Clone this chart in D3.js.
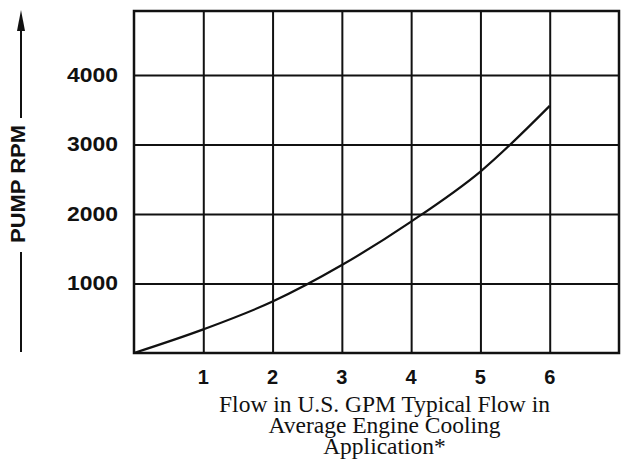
<!DOCTYPE html>
<html>
<head>
<meta charset="utf-8">
<script src="https://cdn.jsdelivr.net/npm/d3@7"></script>
<style>
  body { margin: 0; background: #fff; }
  svg { display: block; }
</style>
</head>
<body>
<div id="chart"></div>
<script>
// values
const flowGpm = [0, 1, 2, 3, 4, 5, 6]
const pumpRpm = [0, 340, 740, 1265, 1890, 2610, 3555]
const xTicks = [1, 2, 3, 4, 5, 6]
const yTicks = [1000, 2000, 3000, 4000]
const yTitle = "PUMP RPM"
const xTitle = ["Flow in U.S. GPM Typical Flow in", "Average Engine Cooling", "Application*"]

let width = 629
let height = 476
let ink = "#111"

let svg = d3.select("#chart")
  .append("svg")
  .attr("width", width)
  .attr("height", height)

// plot box
let boxLeft = 134, boxRight = 619, boxTop = 11, boxBottom = 353

let x = d3.scaleLinear().domain([0, 7]).range([boxLeft, boxRight])
let y = d3.scaleLinear().domain([0, 4920]).range([boxBottom, boxTop])

// vertical grid lines
svg.append("g")
  .attr("transform", `translate(0,${boxBottom})`)
  .call(d3.axisBottom(x).tickValues(xTicks).tickSize(-(boxBottom - boxTop)).tickFormat(""))
  .call(g => g.select(".domain").remove())
  .call(g => g.selectAll("line").attr("stroke", ink).attr("stroke-width", 2))

// horizontal grid lines
svg.append("g")
  .attr("transform", `translate(${boxLeft},0)`)
  .call(d3.axisLeft(y).tickValues(yTicks).tickSize(-(boxRight - boxLeft)).tickFormat(""))
  .call(g => g.select(".domain").remove())
  .call(g => g.selectAll("line").attr("stroke", ink).attr("stroke-width", 2))

// frame
svg.append("rect")
  .attr("x", boxLeft)
  .attr("y", boxTop)
  .attr("width", boxRight - boxLeft)
  .attr("height", boxBottom - boxTop)
  .attr("fill", "none")
  .attr("stroke", ink)
  .attr("stroke-width", 2.5)

// the curve
let line = d3.line()
  .x((d, i) => x(flowGpm[i]))
  .y(d => y(d))
  .curve(d3.curveMonotoneX)

svg.append("path")
  .datum(pumpRpm)
  .attr("d", line)
  .attr("fill", "none")
  .attr("stroke", ink)
  .attr("stroke-width", 2.2)

// y tick labels
svg.append("g")
  .selectAll("text")
  .data(yTicks)
  .enter()
  .append("text")
  .attr("x", boxLeft - 16)
  .attr("y", d => y(d) + 7)
  .attr("text-anchor", "end")
  .attr("textLength", 51)
  .attr("lengthAdjust", "spacingAndGlyphs")
  .style("font-family", "'Liberation Sans', Arial, sans-serif")
  .style("font-weight", "bold")
  .style("font-size", "19.5px")
  .style("fill", ink)
  .text(d => d)

// x tick labels
svg.append("g")
  .selectAll("text")
  .data(xTicks)
  .enter()
  .append("text")
  .attr("x", d => x(d))
  .attr("y", 384)
  .attr("text-anchor", "middle")
  .style("font-family", "'Liberation Sans', Arial, sans-serif")
  .style("font-weight", "bold")
  .style("font-size", "20px")
  .style("fill", ink)
  .text(d => d)

// y title with arrow lines
svg.append("text")
  .attr("transform", "translate(25,184) rotate(-90)")
  .attr("text-anchor", "middle")
  .attr("textLength", 118)
  .attr("lengthAdjust", "spacingAndGlyphs")
  .style("font-family", "'Liberation Sans', Arial, sans-serif")
  .style("font-weight", "bold")
  .style("font-size", "20.5px")
  .style("fill", ink)
  .text(yTitle)

svg.append("line")
  .attr("x1", 21).attr("x2", 21)
  .attr("y1", 28).attr("y2", 118)
  .attr("stroke", ink)
  .attr("stroke-width", 2)

svg.append("path")
  .attr("d", "M21,10 L25,31 L17,31 Z")
  .attr("fill", ink)

svg.append("line")
  .attr("x1", 21).attr("x2", 21)
  .attr("y1", 252).attr("y2", 352)
  .attr("stroke", ink)
  .attr("stroke-width", 2)

// x title, three lines of serif text
svg.append("g")
  .selectAll("text")
  .data(xTitle)
  .enter()
  .append("text")
  .attr("x", 384.5)
  .attr("y", (d, i) => 412 + i * 21)
  .attr("text-anchor", "middle")
  .style("font-family", "'Liberation Serif', 'Times New Roman', serif")
  .style("font-size", "23.5px")
  .style("fill", ink)
  .text(d => d)
</script>
</body>
</html>
